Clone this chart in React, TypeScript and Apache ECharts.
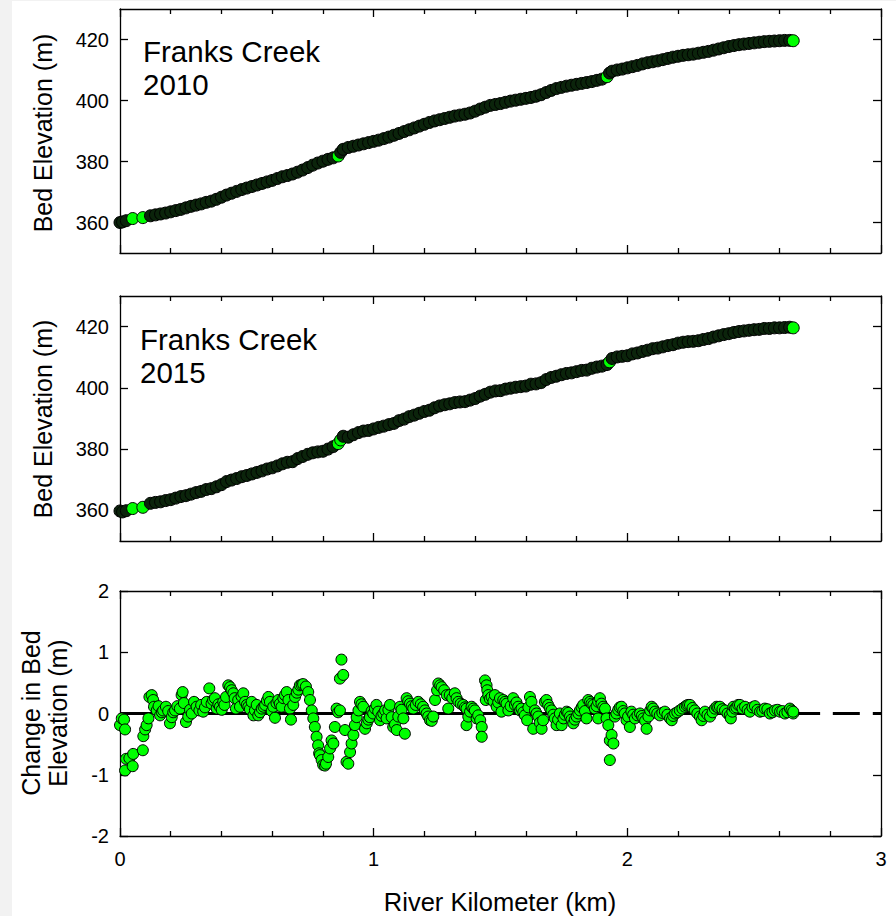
import React, { useEffect, useRef } from "react";
import * as echarts from "echarts";

// ---------------- data ----------------
const kmTicks = [0, 1, 2, 3];
const elevTicks = [360, 380, 400, 420];
const changeTicks = [-2, -1, 0, 1, 2];

// survey stations of the longitudinal profiles (km)
const profileKm = [
  0, 0.01, 0.025, 0.05, 0.09, 0.12, 0.14, 0.16, 0.18, 0.2, 0.22, 0.24, 0.26, 0.28, 0.3,
  0.32, 0.34, 0.36, 0.38, 0.4, 0.42, 0.44, 0.46, 0.48, 0.5, 0.52, 0.54, 0.56, 0.58, 0.6,
  0.62, 0.64, 0.66, 0.68, 0.7, 0.72, 0.74, 0.76, 0.78, 0.8, 0.82, 0.84, 0.86, 0.87, 0.88,
  0.9, 0.92, 0.94, 0.96, 0.98, 1.0, 1.02, 1.04, 1.06, 1.08, 1.1, 1.12, 1.14, 1.16, 1.18,
  1.2, 1.22, 1.24, 1.26, 1.28, 1.3, 1.32, 1.34, 1.36, 1.38, 1.4, 1.42, 1.44, 1.46, 1.48,
  1.5, 1.52, 1.54, 1.56, 1.58, 1.6, 1.62, 1.64, 1.66, 1.68, 1.7, 1.72, 1.74, 1.76, 1.78,
  1.8, 1.82, 1.84, 1.86, 1.88, 1.9, 1.92, 1.93, 1.94, 1.96, 1.98, 2.0, 2.02, 2.04, 2.06,
  2.08, 2.1, 2.12, 2.14, 2.16, 2.18, 2.2, 2.22, 2.24, 2.26, 2.28, 2.3, 2.32, 2.34, 2.36,
  2.38, 2.4, 2.42, 2.44, 2.46, 2.48, 2.5, 2.52, 2.54, 2.56, 2.58, 2.6, 2.62, 2.64, 2.654,
];

const elev2010 = [
  360.0, 360.2, 360.6, 361.3, 361.6, 362.2, 362.5, 362.8, 363.1, 363.5, 363.9, 364.3, 364.8, 365.3, 365.7,
  366.1, 366.6, 367.0, 367.6, 368.3, 369.0, 369.6, 370.2, 370.8, 371.3, 371.8, 372.3, 372.8, 373.3, 373.8,
  374.4, 375.0, 375.4, 375.9, 376.5, 377.2, 378.0, 378.8, 379.5, 380.1, 380.7, 381.2, 381.8, 383.0, 384.0,
  384.6, 385.0, 385.4, 385.8, 386.2, 386.6, 387.0, 387.5, 388.0, 388.6, 389.2, 389.8, 390.4, 391.0, 391.6,
  392.2, 392.8, 393.3, 393.7, 394.1, 394.5, 394.9, 395.2, 395.5, 395.9, 396.5, 397.2, 397.8, 398.4, 398.7,
  399.0, 399.4, 399.8, 400.1, 400.4, 400.7, 401.0, 401.4, 401.9, 402.6, 403.3, 403.9, 404.3, 404.7, 405.0,
  405.3, 405.6, 405.9, 406.2, 406.6, 407.0, 407.8, 409.0, 409.6, 410.0, 410.3, 410.7, 411.1, 411.5, 412.0,
  412.4, 412.7, 413.0, 413.4, 413.8, 414.2, 414.5, 414.8, 415.0, 415.2, 415.5, 415.8, 416.1, 416.5, 416.9,
  417.3, 417.7, 418.0, 418.3, 418.5, 418.7, 418.9, 419.1, 419.3, 419.4, 419.5, 419.6, 419.7, 419.7, 419.6,
];

const elev2015 = [
  359.8, 359.5, 359.9, 360.6, 361.0, 362.3, 362.6, 362.8, 363.2, 363.5, 364.0, 364.5, 364.8, 365.3, 365.8,
  366.2, 366.8, 367.1, 367.7, 368.4, 369.4, 369.9, 370.4, 371.0, 371.4, 371.9, 372.4, 372.9, 373.5, 373.9,
  374.5, 375.2, 375.7, 375.9, 376.9, 377.6, 378.3, 378.8, 379.1, 379.3, 380.0, 380.8, 381.8, 383.0, 384.2,
  383.9, 384.7, 385.4, 385.9, 386.1, 386.6, 387.1, 387.5, 388.0, 388.4, 389.3, 389.8, 390.6, 391.1, 391.7,
  392.3, 392.7, 393.5, 394.1, 394.5, 394.8, 395.2, 395.4, 395.5, 396.0, 396.5, 397.3, 397.9, 398.6, 399.0,
  399.1, 399.6, 399.9, 400.2, 400.4, 400.6, 401.2, 401.3, 401.7, 402.7, 403.4, 403.8, 404.3, 404.7, 404.9,
  405.3, 405.7, 405.8, 406.4, 406.8, 407.1, 407.6, 408.5, 409.6, 410.1, 410.3, 410.5, 411.1, 411.4, 411.9,
  412.3, 412.8, 413.0, 413.4, 413.8, 414.1, 414.6, 414.9, 415.1, 415.2, 415.4, 415.8, 416.1, 416.6, 417.0,
  417.4, 417.7, 418.1, 418.4, 418.6, 418.8, 419.0, 419.1, 419.4, 419.4, 419.6, 419.6, 419.7, 419.8, 419.6,
];

// change in bed elevation 2010 -> 2015
const changeKm = [
  0.000, 0.007, 0.016, 0.020, 0.020, 0.024, 0.037, 0.050, 0.052, 0.090, 0.092, 0.099, 0.105, 0.112, 0.116,
  0.125, 0.131, 0.134, 0.145, 0.152, 0.158, 0.165, 0.170, 0.181, 0.190, 0.197, 0.204, 0.210, 0.217, 0.226,
  0.236, 0.243, 0.247, 0.252, 0.260, 0.269, 0.276, 0.283, 0.292, 0.302, 0.313, 0.320, 0.328, 0.335, 0.342,
  0.352, 0.361, 0.367, 0.374, 0.381, 0.388, 0.394, 0.401, 0.407, 0.412, 0.418, 0.427, 0.434, 0.440, 0.447,
  0.452, 0.457, 0.466, 0.473, 0.479, 0.486, 0.493, 0.500, 0.506, 0.512, 0.519, 0.526, 0.532, 0.539, 0.545,
  0.552, 0.559, 0.566, 0.572, 0.579, 0.585, 0.591, 0.598, 0.604, 0.611, 0.617, 0.624, 0.630, 0.637, 0.644,
  0.650, 0.657, 0.664, 0.670, 0.674, 0.683, 0.690, 0.697, 0.703, 0.709, 0.716, 0.722, 0.733, 0.742, 0.749,
  0.756, 0.762, 0.768, 0.775, 0.781, 0.785, 0.788, 0.795, 0.801, 0.808, 0.812, 0.821, 0.828, 0.834, 0.841,
  0.847, 0.854, 0.860, 0.867, 0.867, 0.873, 0.880, 0.887, 0.893, 0.900, 0.907, 0.913, 0.920, 0.926, 0.933,
  0.940, 0.946, 0.952, 0.959, 0.966, 0.973, 0.979, 0.985, 0.992, 0.998, 1.005, 1.011, 1.018, 1.025, 1.031,
  1.038, 1.045, 1.051, 1.058, 1.064, 1.071, 1.077, 1.084, 1.091, 1.097, 1.104, 1.110, 1.117, 1.123, 1.130,
  1.136, 1.143, 1.150, 1.156, 1.166, 1.176, 1.186, 1.195, 1.202, 1.209, 1.215, 1.222, 1.229, 1.235, 1.242,
  1.250, 1.255, 1.262, 1.268, 1.278, 1.288, 1.294, 1.300, 1.310, 1.320, 1.327, 1.334, 1.343, 1.353, 1.360,
  1.366, 1.366, 1.373, 1.380, 1.386, 1.393, 1.399, 1.406, 1.412, 1.420, 1.426, 1.426, 1.439, 1.442, 1.445,
  1.448, 1.452, 1.458, 1.465, 1.472, 1.478, 1.485, 1.491, 1.498, 1.504, 1.511, 1.518, 1.524, 1.531, 1.540,
  1.550, 1.557, 1.563, 1.570, 1.577, 1.583, 1.590, 1.596, 1.605, 1.610, 1.616, 1.622, 1.629, 1.636, 1.642,
  1.649, 1.655, 1.662, 1.668, 1.675, 1.681, 1.688, 1.694, 1.701, 1.708, 1.714, 1.721, 1.727, 1.734, 1.741,
  1.748, 1.754, 1.761, 1.767, 1.774, 1.780, 1.787, 1.793, 1.800, 1.807, 1.813, 1.820, 1.826, 1.833, 1.839,
  1.846, 1.853, 1.859, 1.866, 1.872, 1.879, 1.885, 1.885, 1.892, 1.898, 1.905, 1.912, 1.918, 1.925, 1.931,
  1.931, 1.938, 1.945, 1.951, 1.957, 1.964, 1.970, 1.977, 1.984, 1.990, 1.997, 2.003, 2.010, 2.016, 2.023,
  2.030, 2.040, 2.050, 2.057, 2.063, 2.070, 2.076, 2.083, 2.090, 2.096, 2.102, 2.109, 2.118, 2.128, 2.138,
  2.148, 2.158, 2.168, 2.175, 2.181, 2.188, 2.197, 2.207, 2.217, 2.227, 2.234, 2.240, 2.247, 2.257, 2.266,
  2.276, 2.286, 2.293, 2.300, 2.306, 2.316, 2.326, 2.336, 2.345, 2.352, 2.358, 2.365, 2.375, 2.385, 2.395,
  2.404, 2.408, 2.414, 2.418, 2.424, 2.430, 2.437, 2.444, 2.454, 2.464, 2.474, 2.483, 2.493, 2.503, 2.513,
  2.523, 2.532, 2.542, 2.552, 2.562, 2.572, 2.582, 2.592, 2.602, 2.611, 2.621, 2.631, 2.641, 2.647, 2.654,
  2.654,
];

const changeM = [
  -0.19, -0.08, -0.10, -0.26, -0.93, -0.74, -0.73, -0.86, -0.66, -0.60, -0.37, -0.26, -0.19, -0.08, 0.27,
  0.30, 0.22, 0.11, 0.05, 0.12, -0.03, 0.02, 0.05, 0.11, 0.04, -0.16, -0.06, 0.02, 0.05, 0.12,
  0.08, 0.30, 0.35, 0.17, -0.14, -0.05, 0.06, 0.00, 0.19, 0.11, 0.05, 0.14, 0.03, 0.10, 0.19,
  0.41, 0.16, 0.22, 0.25, 0.08, 0.15, 0.11, 0.06, 0.19, 0.14, 0.27, 0.46, 0.43, 0.38, 0.33,
  0.25, 0.08, 0.22, 0.11, 0.28, 0.33, 0.19, 0.14, 0.11, 0.07, 0.19, -0.03, 0.05, 0.14, -0.03,
  0.02, 0.08, 0.11, 0.14, 0.21, 0.27, 0.19, 0.04, 0.11, -0.07, 0.17, 0.22, 0.16, 0.11, 0.25,
  0.30, 0.35, 0.22, 0.08, -0.10, 0.14, 0.27, 0.34, 0.39, 0.46, 0.47, 0.48, 0.44, 0.35, 0.22,
  0.05, -0.08, -0.22, -0.38, -0.52, -0.65, -0.68, -0.76, -0.84, -0.85, -0.82, -0.71, -0.57, -0.44, -0.49,
  -0.22, 0.08, 0.02, 0.05, 0.57, 0.88, 0.63, -0.27, -0.79, -0.82, -0.63, -0.49, -0.35, -0.19, -0.06,
  0.05, 0.19, 0.15, 0.11, -0.25, -0.16, -0.10, -0.06, 0.04, 0.00, 0.08, 0.14, 0.03, -0.11, -0.04,
  0.00, 0.05, -0.08, 0.06, 0.14, -0.06, -0.22, -0.18, -0.27, -0.05, 0.11, 0.06, -0.08, -0.33, 0.25,
  0.20, 0.16, 0.12, 0.08, 0.14, 0.19, 0.15, 0.11, 0.05, 0.00, -0.05, -0.11, -0.12, -0.05, 0.22,
  0.38, 0.49, 0.46, 0.43, 0.38, 0.30, 0.08, 0.30, 0.25, 0.33, 0.25, 0.19, 0.16, 0.14, 0.10,
  0.08, -0.19, -0.05, 0.03, 0.11, 0.08, 0.05, -0.08, -0.03, -0.11, -0.22, -0.38, 0.54, 0.22, 0.46,
  0.38, 0.30, 0.24, 0.27, 0.20, 0.30, 0.11, 0.18, 0.25, 0.03, 0.22, 0.19, 0.16, 0.05, 0.12,
  0.25, 0.14, 0.18, 0.11, 0.05, 0.08, 0.02, -0.03, -0.11, 0.10, 0.27, 0.19, -0.25, 0.05, 0.00,
  -0.05, -0.15, -0.25, -0.11, 0.19, 0.22, 0.14, 0.09, 0.05, -0.02, -0.08, -0.19, -0.10, 0.00, -0.19,
  -0.08, -0.02, 0.03, 0.01, -0.05, -0.10, -0.16, -0.10, -0.05, 0.00, 0.05, 0.10, 0.14, 0.04, -0.08,
  0.22, 0.19, 0.16, 0.14, 0.08, 0.12, 0.19, -0.08, 0.25, 0.16, 0.11, 0.08, -0.08, -0.19, -0.44,
  -0.76, -0.35, -0.49, -0.05, 0.00, 0.06, 0.10, 0.11, 0.04, 0.00, -0.11, -0.05, -0.22, 0.03, -0.02,
  -0.08, -0.03, 0.00, -0.04, -0.08, -0.12, -0.25, -0.05, 0.05, 0.11, 0.08, 0.03, 0.00, -0.03, 0.01,
  0.03, -0.02, -0.08, -0.11, -0.04, 0.00, 0.02, 0.05, 0.08, 0.11, 0.13, 0.14, 0.14, 0.09, 0.05,
  0.00, -0.05, -0.11, -0.04, 0.03, -0.02, -0.05, 0.02, 0.08, 0.11, 0.10, 0.11, 0.07, 0.05, 0.00,
  -0.03, -0.08, 0.03, 0.11, 0.08, 0.10, 0.14, 0.14, 0.08, 0.11, 0.06, 0.03, 0.10, 0.12, 0.06,
  0.03, 0.04, 0.08, 0.07, 0.00, 0.02, 0.05, 0.06, 0.03, 0.04, 0.00, 0.02, 0.08, 0.05, 0.00,
  0.03,
];

// zero reference line: solid part then dashed extension (km)
const zeroSolidKm = [0, 2.76];
const zeroDashedKm = [2.81, 3];

const panelTitles = ["Franks Creek", "Franks Creek"];
const panelYears = ["2010", "2015"];

// ---------------- chart ----------------
const FONT = '"Liberation Sans", Arial, Helvetica, sans-serif';
const BLACK = "#000000";
const GREEN = "#00ff00";
const DARK = "#0b240b";

const GRIDS = [
  { left: 120, top: 9, width: 761, height: 244 },
  { left: 120, top: 296, width: 761, height: 245 },
  { left: 120, top: 591, width: 761, height: 245 },
];

const lineStyle = { color: BLACK, width: 1.3 };

function xAxesFor(gridIndex: number, labels: boolean) {
  const base: any = {
    type: "value",
    gridIndex,
    min: kmTicks[0],
    max: kmTicks[kmTicks.length - 1],
    interval: 1,
    splitLine: { show: false },
    minorSplitLine: { show: false },
    axisLine: { show: true, onZero: false, lineStyle },
    axisTick: { show: true, inside: true, length: 8, lineStyle },
    minorTick: { show: true, splitNumber: 5, length: 5, lineStyle },
  };
  return [
    {
      ...base,
      position: "bottom",
      axisLabel: labels
        ? { show: true, fontSize: 20, color: BLACK, fontFamily: FONT, margin: 13 }
        : { show: false },
    },
    { ...base, position: "top", axisLabel: { show: false } },
  ];
}

function elevYAxes(gridIndex: number) {
  const base: any = {
    type: "value",
    gridIndex,
    min: 350,
    max: 430,
    splitLine: { show: false },
    axisLine: { show: true, onZero: false, lineStyle },
    axisTick: { show: true, inside: true, length: 8, lineStyle, customValues: elevTicks },
  };
  return [
    {
      ...base,
      position: "left",
      axisLabel: {
        show: true,
        customValues: elevTicks,
        fontSize: 20,
        color: BLACK,
        fontFamily: FONT,
        margin: 11,
      },
    },
    { ...base, position: "right", axisLabel: { show: false } },
  ];
}

function changeYAxes(gridIndex: number) {
  const base: any = {
    type: "value",
    gridIndex,
    min: changeTicks[0],
    max: changeTicks[changeTicks.length - 1],
    interval: 1,
    splitLine: { show: false },
    axisLine: { show: true, onZero: false, lineStyle },
    axisTick: { show: true, inside: true, length: 8, lineStyle },
  };
  return [
    {
      ...base,
      position: "left",
      axisLabel: { show: true, fontSize: 20, color: BLACK, fontFamily: FONT, margin: 11 },
    },
    { ...base, position: "right", axisLabel: { show: false } },
  ];
}

// a point shows its green fill only where the next (overlapping) point does not cover it
function coverColor(km: number[], elev: number[]) {
  return (p: any) => {
    const i = p.dataIndex;
    if (i >= km.length - 1) return GREEN;
    const dx = km[i + 1] - km[i];
    const dy = Math.abs(elev[i + 1] - elev[i]);
    return dx > 0.028 || dy > 1.1 ? GREEN : DARK;
  };
}

function buildOption() {
  const p2010 = profileKm.map((k, i) => [k, elev2010[i]]);
  const p2015 = profileKm.map((k, i) => [k, elev2015[i]]);
  const change = changeKm.map((k, i) => [k, changeM[i]]);
  const zeroSolid = zeroSolidKm.map((k) => [k, 0]);
  const zeroDashed = zeroDashedKm.map((k) => [k, 0]);

  const profileSeries = (data: number[][], idx: number, elev: number[]) => ({
    type: "scatter",
    xAxisIndex: idx * 2,
    yAxisIndex: idx * 2,
    data,
    symbol: "circle",
    symbolSize: 12,
    silent: true,
    z: 3,
    itemStyle: {
      color: coverColor(profileKm, elev),
      borderColor: BLACK,
      borderWidth: 1,
      opacity: 1,
    },
  });

  const text = (x: number, y: number, t: string, size: number, extra: any = {}) => ({
    type: "text",
    x,
    y,
    silent: true,
    z: 50,
    ...extra,
    style: {
      text: t,
      fontSize: size,
      fontFamily: FONT,
      fill: BLACK,
      align: extra.align || "left",
      verticalAlign: "middle",
    },
  });

  return {
    animation: false,
    backgroundColor: "#ffffff",
    grid: GRIDS.map((g) => ({ ...g, containLabel: false })),
    xAxis: [...xAxesFor(0, false), ...xAxesFor(1, false), ...xAxesFor(2, true)],
    yAxis: [...elevYAxes(0), ...elevYAxes(1), ...changeYAxes(2)],
    series: [
      profileSeries(p2010, 0, elev2010),
      profileSeries(p2015, 1, elev2015),
      {
        type: "line",
        xAxisIndex: 4,
        yAxisIndex: 4,
        data: zeroSolid,
        symbol: "none",
        silent: true,
        z: 1,
        lineStyle: { color: BLACK, width: 2.8 },
      },
      {
        type: "line",
        xAxisIndex: 4,
        yAxisIndex: 4,
        data: zeroDashed,
        symbol: "none",
        silent: true,
        z: 1,
        lineStyle: { color: BLACK, width: 2.8, type: [27, 13] },
      },
      {
        type: "scatter",
        xAxisIndex: 4,
        yAxisIndex: 4,
        data: change,
        symbol: "circle",
        symbolSize: 11,
        silent: true,
        z: 3,
        itemStyle: { color: GREEN, borderColor: BLACK, borderWidth: 1, opacity: 1 },
      },
    ],
    graphic: [
      { type: "rect", shape: { x: 0, y: 0, width: 12, height: 916 }, style: { fill: "#f2f2f2" }, silent: true },
      { type: "rect", shape: { x: 0, y: 0, width: 896, height: 1 }, style: { fill: "#f2f2f2" }, silent: true },
      text(143, 51, panelTitles[0], 29.5),
      text(143, 84.5, panelYears[0], 29.5),
      text(140, 339, panelTitles[1], 29.5),
      text(140, 372, panelYears[1], 29.5),
      text(43, 133, "Bed Elevation (m)", 25, { rotation: Math.PI / 2, align: "center" }),
      text(43, 419, "Bed Elevation (m)", 25, { rotation: Math.PI / 2, align: "center" }),
      text(31, 713, "Change in Bed", 25, { rotation: Math.PI / 2, align: "center" }),
      text(58, 713, "Elevation (m)", 25, { rotation: Math.PI / 2, align: "center" }),
      text(500, 902, "River Kilometer (km)", 25.5, { align: "center" }),
    ],
  };
}

export default function App() {
  const ref = useRef<HTMLDivElement>(null);
  useEffect(() => {
    if (!ref.current) return;
    const chart = echarts.init(ref.current, undefined, { renderer: "svg" });
    chart.setOption(buildOption() as any);
    return () => chart.dispose();
  }, []);
  return (
    <div
      ref={ref}
      style={{ position: "absolute", left: 0, top: 0, width: 896, height: 916, background: "#fff" }}
    />
  );
}
